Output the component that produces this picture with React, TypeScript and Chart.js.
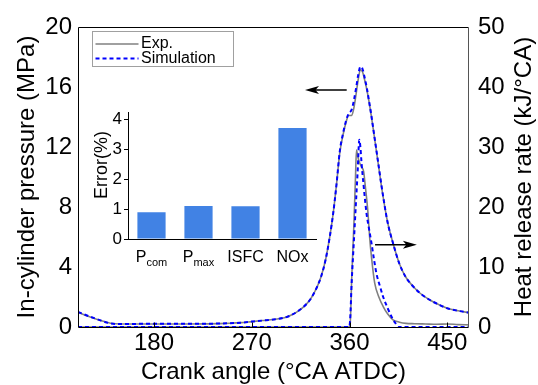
import { useEffect, useRef } from 'react';
import { Chart, registerables } from 'chart.js';

Chart.register(...registerables);

// Crank angle axis (°CA ATDC)
const angleMin = 110;
const angleMax = 470;
const angleTicks = [180, 270, 360, 450];

// In-cylinder pressure (MPa)
const pressureAngle = [
  110, 120, 130, 140, 150, 170, 200, 230, 250, 260,
  270, 280, 290, 300, 306, 312, 318, 324, 330, 334,
  338, 342, 345, 348, 351, 354, 357, 359, 362, 364,
  366, 368, 370, 372, 374, 376, 378, 380, 383, 386,
  390, 395, 400, 406, 412, 418, 425, 434, 442, 450,
  460, 470,
];
const pressureExp = [
  0.98, 0.7, 0.45, 0.25, 0.2, 0.2, 0.2, 0.21, 0.25, 0.29,
  0.36, 0.43, 0.5, 0.62, 0.78, 1.03, 1.36, 1.85, 2.65, 3.4,
  4.5, 6.1, 7.6, 9.5, 11.6, 12.8, 13.7, 14.1, 14.1, 14.6,
  15.5, 16.5, 17.15, 17.0, 16.45, 15.8, 15.0, 14.1, 12.6, 11.1,
  9.1, 7.0, 5.6, 4.2, 3.3, 2.75, 2.25, 1.8, 1.5, 1.25,
  1.08, 0.95,
];
const pressureSim = [
  1.0, 0.72, 0.46, 0.24, 0.2, 0.21, 0.21, 0.22, 0.25, 0.29,
  0.36, 0.43, 0.5, 0.62, 0.78, 1.03, 1.36, 1.85, 2.65, 3.4,
  4.5, 6.1, 7.6, 9.5, 11.7, 12.9, 13.8, 14.2, 14.5, 15.1,
  15.9, 16.8, 17.35, 17.2, 16.6, 15.9, 15.05, 14.15, 12.65, 11.15,
  9.15, 7.0, 5.6, 4.2, 3.3, 2.75, 2.25, 1.8, 1.5, 1.25,
  1.08, 0.95,
];

// Heat release rate (kJ/°CA)
const hrrExpAngle = [
  110, 359, 360.5, 362, 364, 365.5, 366.4, 367.5, 369, 371,
  373, 374.5, 375.6, 377, 378.5, 380.2, 383.2, 387, 391, 395,
  400, 406, 412, 420, 430, 440, 450, 460, 470,
];
const hrrExp = [
  0, 0, 0.3, 8, 17, 25, 29.5, 28.5, 27.5, 26.7,
  25.9, 23.5, 21.7, 19, 15, 11.7, 7.3, 5, 3.4, 2.2,
  1.2, 0.8, 0.6, 0.55, 0.5, 0.45, 0.5, 0.4, 0.35,
];
const hrrSimAngle = [
  110, 359.5, 360.5, 362, 364, 366, 367.5, 369, 370, 371,
  373, 375.6, 378, 380.2, 382.5, 384.8, 388, 391, 395, 398.7,
  402, 405, 470,
];
const hrrSim = [
  0, 0, 1, 7.5, 14.3, 21, 26, 31.2, 30, 27.5,
  23.5, 19, 16.3, 14, 11.3, 8.9, 6.8, 5, 3.2, 1.7,
  0.7, 0, 0,
];

// Model error (%)
const errorLabels = ['P', 'P', 'ISFC', 'NOx'];
const errorSubscripts = ['com', 'max', '', ''];
const errorValues = [0.9, 1.11, 1.1, 3.72];
const errorTicks = [0, 1, 2, 3, 4];

const FONT = "'Liberation Sans', Arial, Helvetica, sans-serif";
const GREY = '#808080';
const BLUE = '#0000ff';
const BAR = '#4182e4';

const toPoints = (xs: number[], ys: number[]) => xs.map((x, i) => ({ x, y: ys[i] }));

function drawArrow(ctx: CanvasRenderingContext2D, x1: number, y: number, x2: number) {
  const dir = Math.sign(x2 - x1);
  const head = 14;
  ctx.save();
  ctx.strokeStyle = '#000';
  ctx.fillStyle = '#000';
  ctx.lineWidth = 1.6;
  ctx.beginPath();
  ctx.moveTo(x1, y);
  ctx.lineTo(x2 - dir * head * 0.7, y);
  ctx.stroke();
  ctx.beginPath();
  ctx.moveTo(x2, y);
  ctx.lineTo(x2 - dir * head, y - 4);
  ctx.lineTo(x2 - dir * head * 0.75, y);
  ctx.lineTo(x2 - dir * head, y + 4);
  ctx.closePath();
  ctx.fill();
  ctx.restore();
}

const mainDecor = {
  id: 'mainDecor',
  afterDraw(chart: any) {
    const { ctx, chartArea: a, scales } = chart;
    const xs = scales.x;
    const yP = scales.yP;
    const yH = scales.yH;
    const L = Math.round(a.left) + 0.5;
    const R = Math.round(a.right) - 0.5;
    const T = Math.round(a.top) + 0.5;
    const B = Math.round(a.bottom) + 0.5;
    ctx.save();

    // plot frame
    ctx.lineWidth = 1;
    ctx.strokeStyle = '#000';
    ctx.beginPath();
    ctx.moveTo(R, T);
    ctx.lineTo(L, T);
    ctx.lineTo(L, B);
    ctx.lineTo(R, B);
    ctx.stroke();
    ctx.strokeStyle = '#555';
    ctx.beginPath();
    ctx.moveTo(R, T);
    ctx.lineTo(R, B);
    ctx.stroke();

    // inward ticks on the crank angle axis
    ctx.strokeStyle = '#000';
    ctx.beginPath();
    angleTicks.forEach((v) => {
      const px = Math.round(xs.getPixelForValue(v)) + 0.5;
      ctx.moveTo(px, B);
      ctx.lineTo(px, B - 5);
    });
    ctx.stroke();

    // axis titles
    ctx.fillStyle = '#000';
    ctx.font = `24px ${FONT}`;
    ctx.textAlign = 'center';
    ctx.textBaseline = 'middle';
    ctx.fillText('Crank angle (°CA ATDC)', (a.left + a.right) / 2, 372);
    const midY = (a.top + a.bottom) / 2;
    ctx.save();
    ctx.translate(27.5, midY);
    ctx.rotate(-Math.PI / 2);
    ctx.fillText('In-cylinder pressure (MPa)', 0, 0);
    ctx.restore();
    ctx.save();
    ctx.translate(524.5, midY);
    ctx.rotate(-Math.PI / 2);
    ctx.fillText('Heat release rate (kJ/°CA)', 0, 0);
    ctx.restore();

    // legend
    const lx = a.left + 14.5;
    const ly = a.top + 4.5;
    ctx.fillStyle = '#fff';
    ctx.fillRect(lx, ly, 141, 35);
    ctx.strokeStyle = '#a0a0a0';
    ctx.lineWidth = 1;
    ctx.strokeRect(lx, ly, 141, 35);
    ctx.lineWidth = 1.5;
    ctx.strokeStyle = GREY;
    ctx.beginPath();
    ctx.moveTo(lx + 3, ly + 12.5);
    ctx.lineTo(lx + 46, ly + 12.5);
    ctx.stroke();
    ctx.lineWidth = 2;
    ctx.strokeStyle = BLUE;
    ctx.setLineDash([4, 3]);
    ctx.beginPath();
    ctx.moveTo(lx + 3, ly + 27);
    ctx.lineTo(lx + 46, ly + 27);
    ctx.stroke();
    ctx.setLineDash([]);
    ctx.fillStyle = '#000';
    ctx.font = `16px ${FONT}`;
    ctx.textAlign = 'left';
    ctx.fillText('Exp.', lx + 48.5, ly + 12.5);
    ctx.fillText('Simulation', lx + 48.5, ly + 27);

    // arrows pointing each curve to its axis
    drawArrow(ctx, xs.getPixelForValue(357.4), yP.getPixelForValue(15.8), xs.getPixelForValue(319));
    drawArrow(ctx, xs.getPixelForValue(383.5), yH.getPixelForValue(13.7), xs.getPixelForValue(422));

    ctx.restore();
  },
};

const insetDecor = {
  id: 'insetDecor',
  afterDraw(chart: any) {
    const { ctx, chartArea: a, scales } = chart;
    ctx.save();
    ctx.fillStyle = '#000';
    ctx.textBaseline = 'alphabetic';
    const base = a.bottom + 23;
    errorLabels.forEach((label, i) => {
      const cx = scales.x.getPixelForValue(i);
      const sub = errorSubscripts[i];
      ctx.font = `16px ${FONT}`;
      const w1 = ctx.measureText(label).width;
      ctx.font = `11px ${FONT}`;
      const w2 = sub ? ctx.measureText(sub).width : 0;
      const start = cx - (w1 + w2) / 2;
      ctx.textAlign = 'left';
      ctx.font = `16px ${FONT}`;
      ctx.fillText(label, start, base);
      if (sub) {
        ctx.font = `11px ${FONT}`;
        ctx.fillText(sub, start + w1, base + 4);
      }
    });
    ctx.font = `18px ${FONT}`;
    ctx.textAlign = 'center';
    ctx.textBaseline = 'middle';
    ctx.translate(18.5, 65);
    ctx.rotate(-Math.PI / 2);
    ctx.fillText('Error(%)', 0, 0);
    ctx.restore();
  },
};

export default function App() {
  const mainRef = useRef<HTMLCanvasElement>(null);
  const insetRef = useRef<HTMLCanvasElement>(null);

  useEffect(() => {
    document.body.style.margin = '0';
    const tickFont = { family: FONT, size: 24 };

    const main = new Chart(mainRef.current as HTMLCanvasElement, {
      type: 'line',
      data: {
        datasets: [
          {
            label: 'Simulation',
            data: toPoints(pressureAngle, pressureSim),
            yAxisID: 'yP',
            borderColor: BLUE,
            borderWidth: 2,
            borderDash: [4, 3],
            pointRadius: 0,
            cubicInterpolationMode: 'monotone',
          },
          {
            label: 'Simulation HRR',
            data: toPoints(hrrSimAngle, hrrSim),
            yAxisID: 'yH',
            borderColor: BLUE,
            borderWidth: 2,
            borderDash: [4, 3],
            pointRadius: 0,
            cubicInterpolationMode: 'monotone',
          },
          {
            label: 'Exp.',
            data: toPoints(pressureAngle, pressureExp),
            yAxisID: 'yP',
            borderColor: GREY,
            borderWidth: 1.6,
            pointRadius: 0,
            cubicInterpolationMode: 'monotone',
          },
          {
            label: 'Exp. HRR',
            data: toPoints(hrrExpAngle, hrrExp),
            yAxisID: 'yH',
            borderColor: GREY,
            borderWidth: 1.6,
            pointRadius: 0,
            cubicInterpolationMode: 'monotone',
          },
        ],
      },
      options: {
        animation: false,
        responsive: false,
        maintainAspectRatio: false,
        layout: { padding: { top: 27, left: 0, right: 0, bottom: 0 } },
        plugins: { legend: { display: false }, tooltip: { enabled: false } },
        scales: {
          x: {
            type: 'linear',
            min: angleMin,
            max: angleMax,
            afterBuildTicks: (s: any) => {
              s.ticks = angleTicks.map((value) => ({ value }));
            },
            afterFit: (s: any) => {
              s.height = 58;
            },
            grid: { display: false, drawTicks: false },
            border: { display: false },
            ticks: { font: tickFont, color: '#000', padding: 2, maxRotation: 0 },
          },
          yP: {
            type: 'linear',
            position: 'left',
            min: 0,
            max: 20,
            afterFit: (s: any) => {
              s.width = 78;
            },
            grid: { display: false, drawTicks: false },
            border: { display: false },
            ticks: { stepSize: 4, font: tickFont, color: '#000', padding: 6 },
          },
          yH: {
            type: 'linear',
            position: 'right',
            min: 0,
            max: 50,
            afterFit: (s: any) => {
              s.width = 69;
            },
            grid: { display: false, drawTicks: false },
            border: { display: false },
            ticks: { stepSize: 10, font: tickFont, color: '#000', padding: 9 },
          },
        },
      },
      plugins: [mainDecor],
    } as any);

    const inset = new Chart(insetRef.current as HTMLCanvasElement, {
      type: 'bar',
      data: {
        labels: errorLabels.map((l, i) => l + errorSubscripts[i]),
        datasets: [
          {
            data: errorValues,
            backgroundColor: BAR,
            barPercentage: 0.6,
            categoryPercentage: 1,
          },
        ],
      },
      options: {
        animation: false,
        responsive: false,
        maintainAspectRatio: false,
        layout: { padding: { top: 12, right: 4, left: 0, bottom: 0 } },
        plugins: { legend: { display: false }, tooltip: { enabled: false } },
        scales: {
          x: {
            afterFit: (s: any) => {
              s.height = 36;
            },
            grid: { display: false, drawTicks: false },
            border: { display: true, color: '#000', width: 1 },
            ticks: { display: false },
          },
          y: {
            min: 0,
            max: 4.25,
            afterBuildTicks: (s: any) => {
              s.ticks = errorTicks.map((value) => ({ value }));
            },
            afterFit: (s: any) => {
              s.width = 44;
            },
            grid: { display: true, drawOnChartArea: false, drawTicks: true, tickLength: 4, color: '#000' },
            border: { display: true, color: '#000', width: 1 },
            ticks: { font: { family: FONT, size: 17 }, color: '#000', padding: 2 },
          },
        },
      },
      plugins: [insetDecor],
    } as any);

    return () => {
      main.destroy();
      inset.destroy();
    };
  }, []);

  return (
    <div style={{ position: 'relative', width: 538, height: 385, background: '#fff' }}>
      <canvas ref={mainRef} width={538} height={385} style={{ position: 'absolute', left: 0, top: 0 }} />
      <canvas ref={insetRef} width={236} height={175} style={{ position: 'absolute', left: 84, top: 100 }} />
    </div>
  );
}
